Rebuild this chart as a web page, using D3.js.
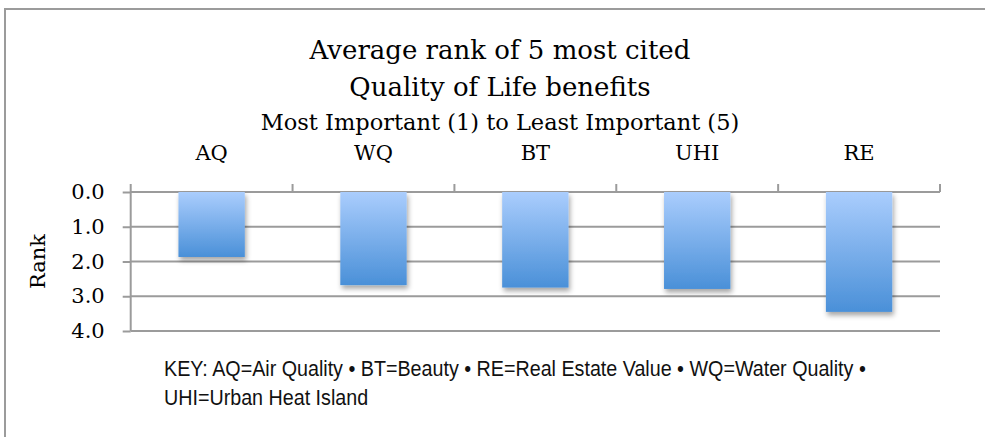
<!DOCTYPE html>
<html>
<head>
<meta charset="utf-8">
<script src="https://cdn.jsdelivr.net/npm/d3@7"></script>
<style>
  body { margin: 0; background: #fff; }
  svg { display: block; }
  .serif { font-family: "DejaVu Serif", "Liberation Serif", serif; fill: #000; }
  .key { font-family: "Liberation Sans", Arial, sans-serif; fill: #111; }
</style>
</head>
<body>
<div id="canvas-container"></div>
<script>
var categories = ["AQ", "WQ", "BT", "UHI", "RE"];
var ranks = [1.87, 2.68, 2.75, 2.79, 3.45];
var yTicks = [0, 1, 2, 3, 4];
var titleLines = ["Average rank of 5 most cited", "Quality of Life benefits"];
var subtitle = "Most Important (1) to Least Important (5)";
var yLabel = "Rank";
var keyLines = ["KEY: AQ=Air Quality \u2022 BT=Beauty \u2022 RE=Real Estate Value \u2022 WQ=Water Quality \u2022",
                "UHI=Urban Heat Island"];

var W = 985, H = 437;
var plotL = 130.7, plotR = 940, plotT = 192, plotB = 331;
var grey = "#9b9b9b";

var svg = d3.select("#canvas-container").append("svg")
    .attr("width", W)
    .attr("height", H);

// outer frame (runs off the right and bottom edge)
svg.append("rect")
    .attr("x", 5).attr("y", 9)
    .attr("width", W + 10).attr("height", H + 10)
    .attr("fill", "none")
    .attr("stroke", grey)
    .attr("stroke-width", 2);

var defs = svg.append("defs");
var grad = defs.append("linearGradient")
    .attr("id", "barGrad")
    .attr("x1", 0).attr("y1", 0).attr("x2", 0).attr("y2", 1);
grad.append("stop").attr("offset", "0%").attr("stop-color", "#aacdfd");
grad.append("stop").attr("offset", "100%").attr("stop-color", "#4a90d8");

var shadow = defs.append("filter")
    .attr("id", "shadow")
    .attr("x", "-20%").attr("y", "-20%")
    .attr("width", "150%").attr("height", "150%");
shadow.append("feDropShadow")
    .attr("dx", 1.5).attr("dy", 3.5)
    .attr("stdDeviation", 2.5)
    .attr("flood-color", "#000")
    .attr("flood-opacity", 0.35);

var x = d3.scaleBand()
    .domain(categories)
    .range([plotL, plotR])
    .paddingInner(0.59)
    .paddingOuter(0.295);

var y = d3.scaleLinear()
    .domain([0, 4])
    .range([plotT, plotB]);

// gridlines
svg.append("g").selectAll("line")
    .data(yTicks)
    .enter().append("line")
    .attr("x1", plotL).attr("x2", plotR)
    .attr("y1", function (d) { return y(d); })
    .attr("y2", function (d) { return y(d); })
    .attr("stroke", grey)
    .attr("stroke-width", 2);

// y axis
var yAxis = svg.append("g")
    .attr("transform", "translate(" + plotL + ",0)")
    .call(d3.axisLeft(y)
        .tickValues(yTicks)
        .tickFormat(d3.format(".1f"))
        .tickSize(8)
        .tickPadding(18));
yAxis.select(".domain").remove();
yAxis.selectAll(".tick line").attr("stroke", grey).attr("stroke-width", 2);
yAxis.selectAll(".tick text")
    .attr("class", "serif")
    .style("font-size", "21px")
    .attr("fill", "#000");

// vertical axis line
svg.append("line")
    .attr("x1", plotL).attr("x2", plotL)
    .attr("y1", plotT - 8).attr("y2", plotB)
    .attr("stroke", grey)
    .attr("stroke-width", 2);

// category boundary ticks on top
var bounds = categories.map(function (c, i) { return plotL + x.step() * (i + 1); });
svg.append("g").selectAll("line")
    .data(bounds)
    .enter().append("line")
    .attr("x1", function (d) { return d; })
    .attr("x2", function (d) { return d; })
    .attr("y1", plotT - 8).attr("y2", plotT)
    .attr("stroke", grey)
    .attr("stroke-width", 2);

// category labels
var xAxis = svg.append("g")
    .attr("transform", "translate(0,160)")
    .call(d3.axisTop(x).tickSize(0).tickPadding(0));
xAxis.select(".domain").remove();
xAxis.selectAll(".tick text")
    .attr("class", "serif")
    .attr("dy", 0)
    .style("font-size", "21px")
    .attr("fill", "#000");

// bars
svg.append("g").selectAll("rect")
    .data(ranks)
    .enter().append("rect")
    .attr("x", function (d, i) { return x(categories[i]); })
    .attr("y", y(0))
    .attr("width", x.bandwidth())
    .attr("height", function (d) { return y(d) - y(0); })
    .attr("fill", "url(#barGrad)")
    .attr("filter", "url(#shadow)");

// titles
svg.append("text")
    .attr("class", "serif")
    .attr("x", 500).attr("y", 59)
    .attr("text-anchor", "middle")
    .style("font-size", "26px")
    .text(titleLines[0]);
svg.append("text")
    .attr("class", "serif")
    .attr("x", 500).attr("y", 96)
    .attr("text-anchor", "middle")
    .style("font-size", "26px")
    .text(titleLines[1]);
svg.append("text")
    .attr("class", "serif")
    .attr("x", 500).attr("y", 130)
    .attr("text-anchor", "middle")
    .style("font-size", "22.5px")
    .text(subtitle);

// axis title
svg.append("text")
    .attr("class", "serif")
    .attr("transform", "translate(45," + ((plotT + plotB) / 2) + ") rotate(-90)")
    .attr("text-anchor", "middle")
    .style("font-size", "21px")
    .text(yLabel);

// key, condensed to look like Arial Narrow
var keyWidth = 702;
var k0 = svg.append("g").attr("transform", "translate(164,376)");
var t0 = k0.append("text").attr("class", "key").style("font-size", "22px").text(keyLines[0]);
var sx = keyWidth / t0.node().getComputedTextLength();
k0.attr("transform", "translate(164,376) scale(" + sx + ",1)");
svg.append("g")
    .attr("transform", "translate(164,405) scale(" + sx + ",1)")
    .append("text").attr("class", "key").style("font-size", "22px").text(keyLines[1]);
</script>
</body>
</html>
